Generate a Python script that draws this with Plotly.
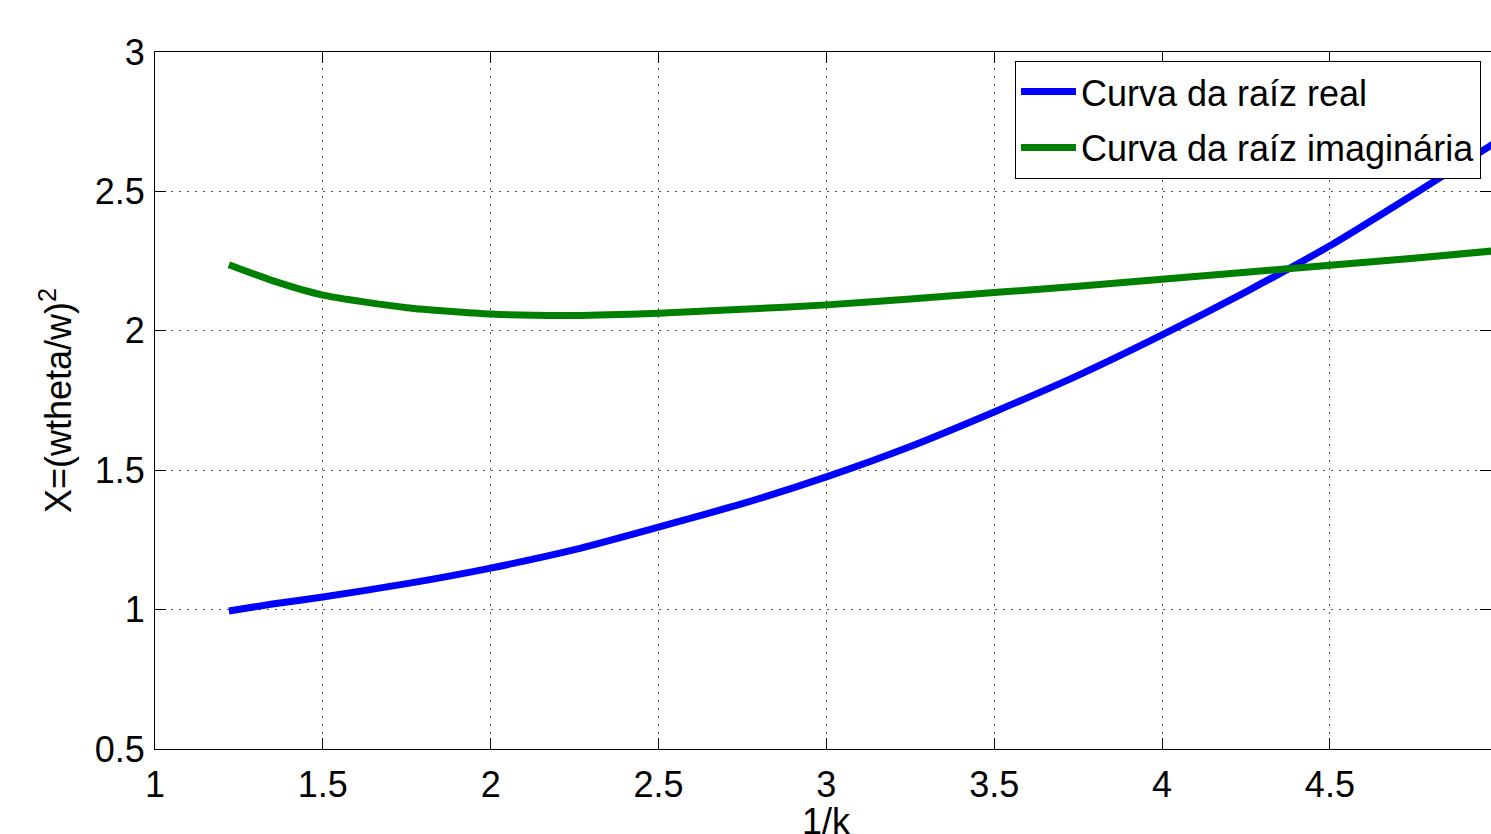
import plotly.graph_objects as go

# Data
inv_k = [1.22, 1.35, 1.5, 1.75, 2.0, 2.25, 2.5, 2.75, 3.0, 3.25, 3.5, 3.75, 4.0, 4.25, 4.5, 4.75, 5.0]
real_root = [0.995, 1.02, 1.045, 1.093, 1.149, 1.215, 1.296, 1.38, 1.476, 1.585, 1.709, 1.84, 1.985, 2.14, 2.305, 2.49, 2.68]
imag_root = [2.237, 2.18, 2.128, 2.083, 2.06, 2.055, 2.063, 2.077, 2.093, 2.114, 2.137, 2.16, 2.185, 2.21, 2.235, 2.26, 2.288]

series_names = ["Curva da raíz real", "Curva da raíz imaginária"]
x_ticks = [1, 1.5, 2, 2.5, 3, 3.5, 4, 4.5, 5]
y_ticks = [0.5, 1, 1.5, 2, 2.5, 3]
x_title = "1/k"
y_title = "X=(wtheta/w)<sup>2</sup>"

FONT = "Liberation Sans, Arial, sans-serif"

fig = go.Figure()
fig.add_trace(go.Scatter(x=inv_k, y=real_root, mode="lines", name=series_names[0],
                         legendgroup="a",
                         line=dict(color="#0000ff", width=7, shape="spline", smoothing=0.6)))
fig.add_trace(go.Scatter(x=inv_k, y=imag_root, mode="lines", name=series_names[1],
                         legendgroup="b",
                         line=dict(color="#008000", width=7, shape="spline", smoothing=0.6)))

axis_common = dict(
    showline=True, linecolor="black", linewidth=1, mirror="ticks",
    ticks="inside", ticklen=11, tickcolor="black", tickwidth=1,
    showgrid=True, gridcolor="#555555", gridwidth=1, griddash="2px,6px",
    zeroline=False,
    tickfont=dict(family=FONT, size=36, color="black"),
)

fig.update_layout(
    width=1491, height=834,
    margin=dict(l=155, r=0, t=52, b=85, autoexpand=False),
    paper_bgcolor="white", plot_bgcolor="white",
    font=dict(family=FONT, size=36, color="black"),
    xaxis=dict(range=[1, 4.98], tickvals=x_ticks, ticktext=[f"{v:g}" for v in x_ticks],
               ticklabelstandoff=4, **axis_common),
    yaxis=dict(range=[0.5, 3], tickvals=y_ticks, ticktext=[f"{v:g}" for v in y_ticks],
               title=dict(text=y_title, font=dict(family=FONT, size=36), standoff=12),
               ticklabelstandoff=2, **axis_common),
    legend=dict(x=0.6437, y=0.9875, xanchor="left", yanchor="top",
                bgcolor="white", bordercolor="black", borderwidth=1,
                font=dict(family=FONT, size=36, color="black"),
                tracegroupgap=6, itemwidth=55),
    showlegend=True,
)

fig.add_annotation(text=x_title, xref="x", yref="paper", x=3, y=0,
                   xanchor="center", yanchor="top", yshift=-50, showarrow=False,
                   font=dict(family=FONT, size=36, color="black"))

fig.write_html("out.html")
